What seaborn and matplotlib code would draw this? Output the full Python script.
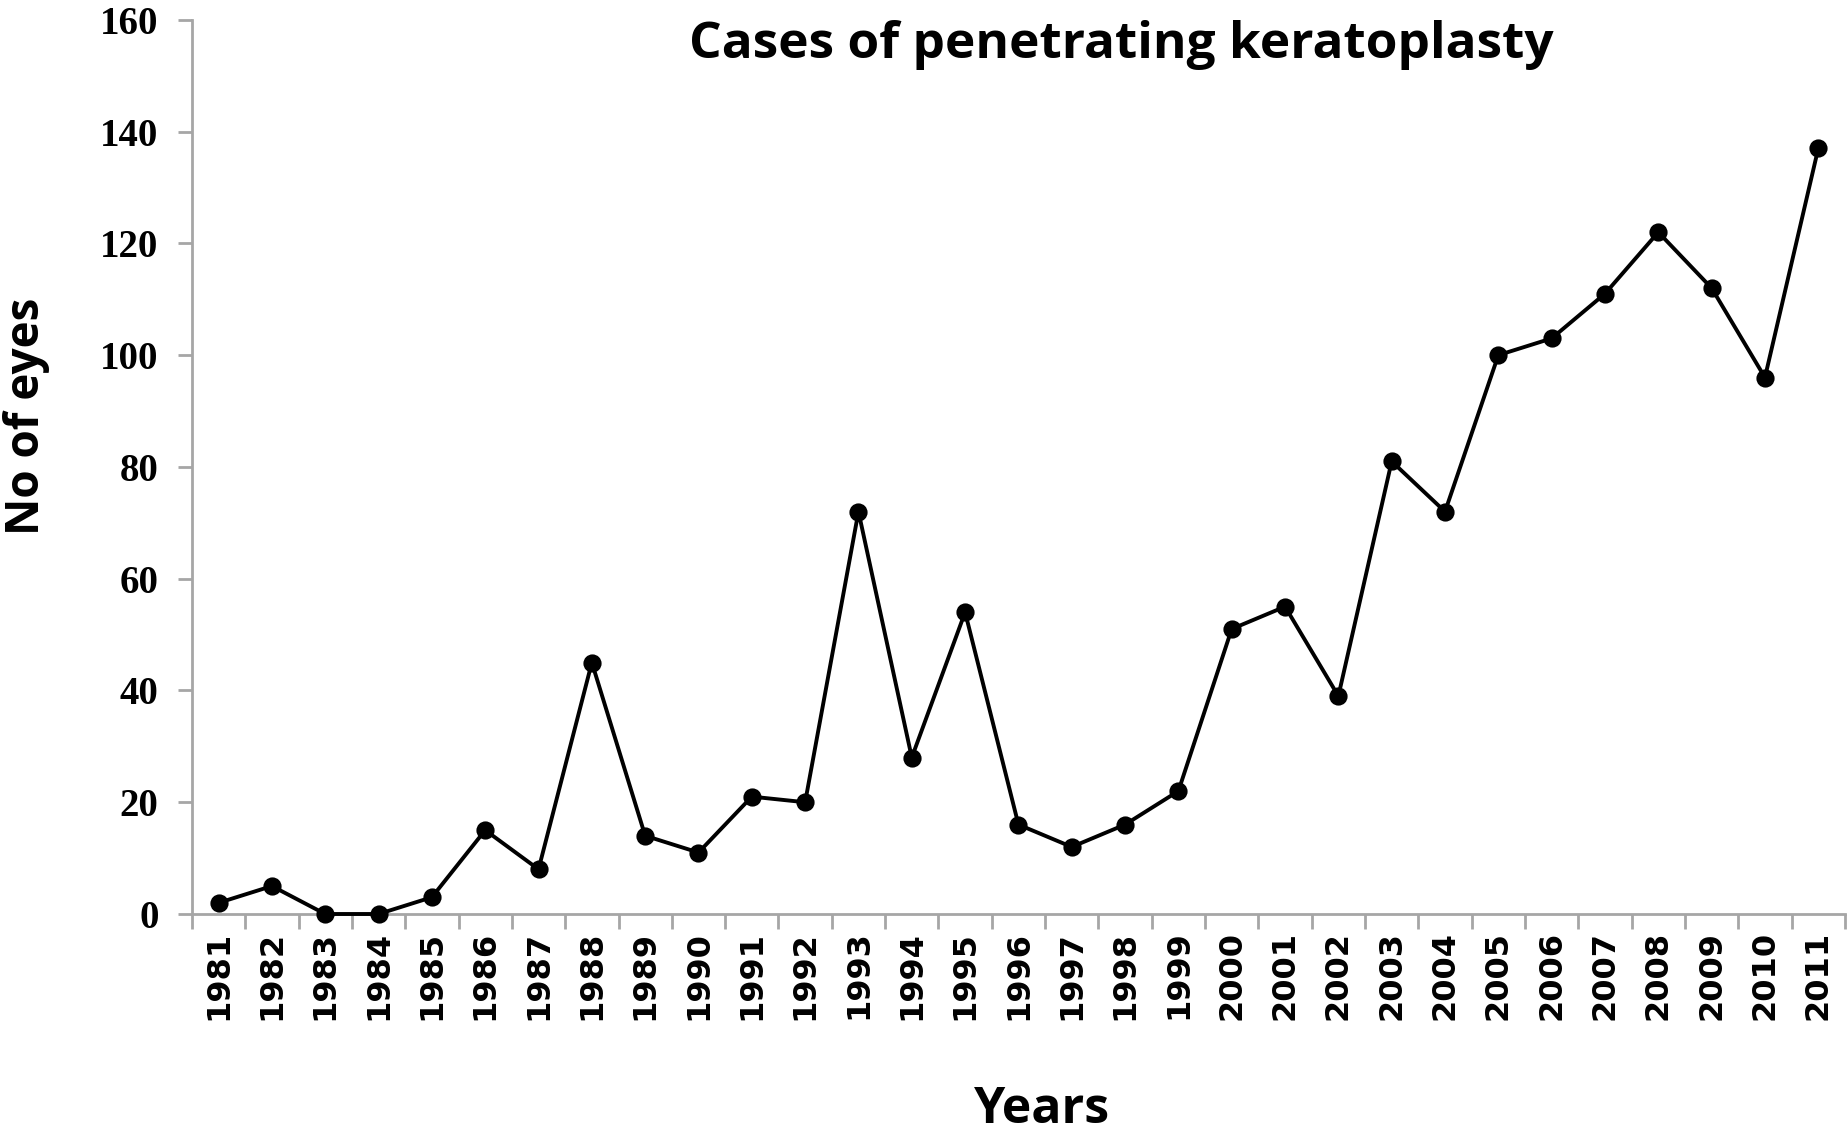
import seaborn as sns
import matplotlib.pyplot as plt
from matplotlib.ticker import FixedLocator

# 연도별 전층 각막이식 건수
years = [str(y) for y in range(1981, 2012)]
cases = [2, 5, 0, 0, 3, 15, 8, 45, 14, 11, 21, 20, 72, 28, 54, 16, 12, 16, 22,
         51, 55, 39, 81, 72, 100, 103, 111, 122, 112, 96, 137]
yticks = [0, 20, 40, 60, 80, 100, 120, 140, 160]

sns.set_style('white')
plt.rcParams.update({'font.family': ['DejaVu Sans'],
                     'text.color': 'black',
                     'axes.labelcolor': 'black',
                     'xtick.color': 'black',
                     'ytick.color': 'black'})

fig = plt.figure(figsize=(18.49, 11.34), dpi=100)
ax = fig.add_axes([0.1038, 0.194, 0.8940, 0.7885])

sns.pointplot(x=years, y=cases, color='black', markers='o',
              markersize=11, linewidth=2.8, ax=ax)
for ln in ax.lines:
    ln.set_clip_on(False)

ax.set_xlim(-0.5, len(years) - 0.5)
ax.set_ylim(0, 160)

# 축 스타일 (엑셀 느낌)
gray = '#a6a6a6'
for s in ['top', 'right']:
    ax.spines[s].set_visible(False)
for s in ['left', 'bottom']:
    ax.spines[s].set_color(gray)
    ax.spines[s].set_linewidth(2)
    ax.spines[s].set_zorder(0)

ax.set_yticks(yticks)
ax.set_yticklabels([str(v) for v in yticks], family='Liberation Serif',
                   fontweight='bold', fontsize=28)
ax.tick_params(axis='y', length=10, width=2, color=gray, labelcolor='black',
               pad=14, left=True)

ax.set_xticks(range(len(years)))
ax.set_xticklabels(years, rotation=90, fontsize=23, fontweight='bold')
ax.xaxis.set_minor_locator(FixedLocator([i - 0.5 for i in range(len(years) + 1)]))
ax.tick_params(axis='x', which='major', length=0, pad=12, labelcolor='black')
ax.tick_params(axis='x', which='minor', length=11, width=2, color=gray, bottom=True)

ax.set_xlabel('Years', fontsize=36, fontweight='bold', family='Open Sans', va='center')
ax.xaxis.set_label_coords(0.514, -0.219)
ax.set_ylabel('No of eyes', fontsize=33, fontweight='bold', family='Open Sans', va='center')
ax.yaxis.set_label_coords(-0.100, 0.557)

ax.text(0.562, 0.972, 'Cases of penetrating keratoplasty', transform=ax.transAxes,
        ha='center', va='center', fontsize=37, fontweight='bold', family='Open Sans')

fig.savefig('out.png', dpi=100)
